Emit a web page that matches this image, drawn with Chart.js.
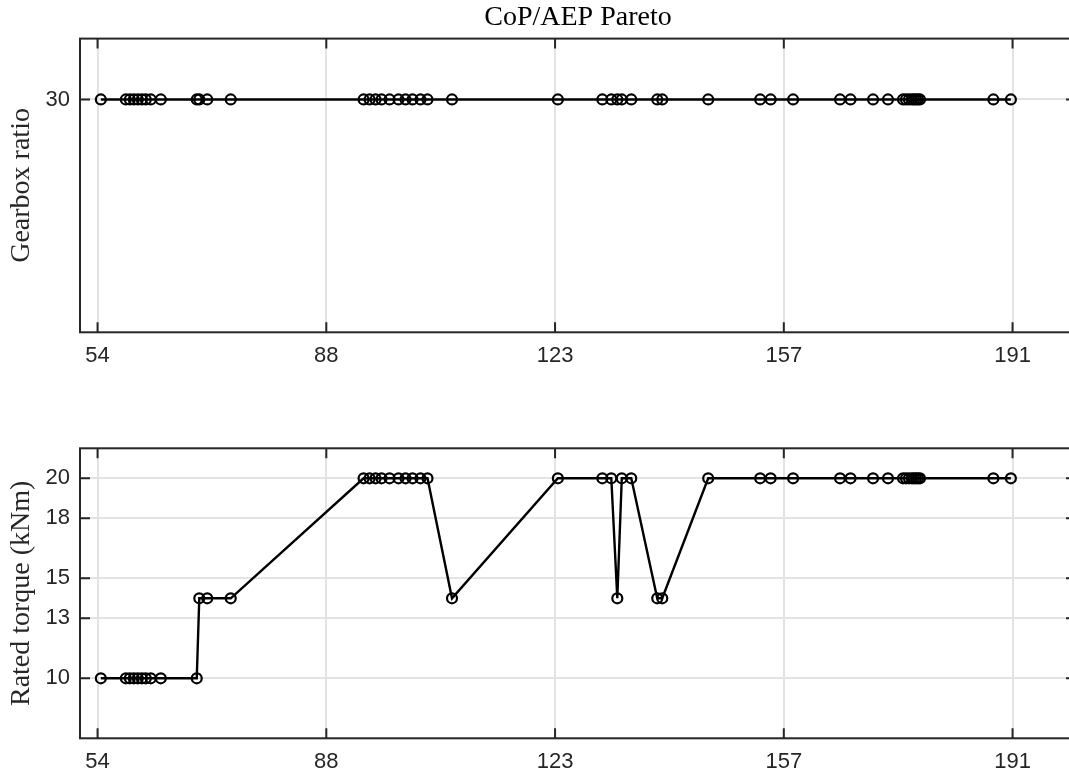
<!DOCTYPE html>
<html>
<head>
<meta charset="utf-8">
<script src="https://cdn.jsdelivr.net/npm/chart.js@4.4.1/dist/chart.umd.min.js"></script>
<style>
html,body{margin:0;padding:0;background:#fff;overflow:hidden;width:1069px;height:776px;}
#c1{position:absolute;left:0;top:0;}
#c2{position:absolute;left:0;top:400px;}
</style>
</head>
<body>
<canvas id="c1" width="1100" height="400" style="width:1100px;height:400px"></canvas>
<canvas id="c2" width="1100" height="376" style="width:1100px;height:376px"></canvas>
<script>
// ---- data ----
const xValues = [54.49, 58.23, 58.83, 59.43, 60.03, 60.63, 61.22, 61.97, 63.47, 68.85,
  69.23, 70.42, 73.94, 93.83, 94.73, 95.62, 96.52, 97.72, 99.06, 100.11,
  101.16, 102.35, 103.40, 107.07, 122.92, 129.58, 130.92, 131.82, 132.49, 133.91,
  137.80, 138.55, 145.43, 153.21, 154.78, 158.14, 165.17, 166.74, 170.11, 172.35,
  174.60, 175.04, 175.49, 175.94, 176.24, 176.54, 176.84, 177.14, 188.13, 190.75];
const gearboxRatio = [30, 30, 30, 30, 30, 30, 30, 30, 30, 30,
  30, 30, 30, 30, 30, 30, 30, 30, 30, 30,
  30, 30, 30, 30, 30, 30, 30, 30, 30, 30,
  30, 30, 30, 30, 30, 30, 30, 30, 30, 30,
  30, 30, 30, 30, 30, 30, 30, 30, 30, 30];
const ratedTorque = [10, 10, 10, 10, 10, 10, 10, 10, 10, 10,
  14, 14, 14, 20, 20, 20, 20, 20, 20, 20,
  20, 20, 20, 14, 20, 20, 20, 14, 20, 20,
  14, 14, 20, 20, 20, 20, 20, 20, 20, 20,
  20, 20, 20, 20, 20, 20, 20, 20, 20, 20];
const xTicks = [54, 88.25, 122.5, 156.75, 191];
const gearTicks = [30];
const torqueTicks = [10, 13, 15, 18, 20];
const titleText = 'CoP/AEP Pareto';
const gearLabel = 'Gearbox ratio';
const torqueLabel = 'Rated torque (kNm)';

// ---- styling ----
const AX = '#262626';
const GRID = '#e3e3e3';
const SANS = "'Liberation Sans', Arial, sans-serif";
const SERIF = "'Liberation Serif', 'Times New Roman', serif";

const framePlugin = {
  id: 'frame',
  afterDraw(chart) {
    const {ctx, chartArea: a, scales} = chart;
    const L = 10;
    ctx.save();
    ctx.strokeStyle = AX;
    ctx.lineWidth = 2;
    ctx.beginPath();
    scales.x.ticks.forEach(t => {
      const p = scales.x.getPixelForValue(t.value);
      ctx.moveTo(p, a.bottom); ctx.lineTo(p, a.bottom - L);
      ctx.moveTo(p, a.top); ctx.lineTo(p, a.top + L);
    });
    scales.y.ticks.forEach(t => {
      const p = scales.y.getPixelForValue(t.value);
      ctx.moveTo(a.left, p); ctx.lineTo(a.left + L, p);
      ctx.moveTo(a.right, p); ctx.lineTo(a.right - L, p);
    });
    ctx.stroke();
    ctx.strokeRect(a.left, a.top, a.right - a.left, a.bottom - a.top);
    ctx.restore();
  }
};

function makeChart(id, yVals, yTicks, yMin, yMax, yTitle, showTitle, padTop, xAxisHeight) {
  const pts = xValues.map((x, i) => ({x: x, y: yVals[i]}));
  return new Chart(document.getElementById(id), {
    type: 'line',
    data: {
      datasets: [{
        data: pts,
        borderColor: '#000',
        borderWidth: 2.4,
        tension: 0,
        pointRadius: 5,
        pointHoverRadius: 5,
        pointBorderWidth: 2.2,
        pointBorderColor: '#000',
        pointBackgroundColor: 'rgba(0,0,0,0)'
      }]
    },
    options: {
      responsive: false,
      animation: false,
      events: [],
      layout: {padding: {top: padTop, left: 0, right: 24, bottom: 0}},
      plugins: {
        legend: {display: false},
        tooltip: {enabled: false},
        title: {
          display: showTitle,
          text: titleText,
          fullSize: false,
          color: '#000',
          font: {family: SERIF, size: 28, weight: 'normal'},
          padding: {top: 1, bottom: 4}
        }
      },
      scales: {
        x: {
          type: 'linear',
          min: 51.37,
          max: 200.5,
          afterBuildTicks: s => { s.ticks = xTicks.map(v => ({value: v})); },
          afterFit: s => { s.height = xAxisHeight; },
          ticks: {
            callback: v => String(Math.round(v)),
            color: AX,
            font: {family: SANS, size: 22},
            padding: 10,
            maxRotation: 0,
            autoSkip: false
          },
          grid: {color: GRID, lineWidth: 2, drawTicks: false},
          border: {display: false}
        },
        y: {
          type: 'linear',
          min: yMin,
          max: yMax,
          afterBuildTicks: s => { s.ticks = yTicks.map(v => ({value: v})); },
          afterFit: s => { s.width = 80; },
          ticks: {
            color: AX,
            font: {family: SANS, size: 22},
            padding: 10,
            autoSkip: false
          },
          grid: {color: GRID, lineWidth: 2, drawTicks: false},
          border: {display: false},
          title: {
            display: true,
            text: yTitle,
            color: AX,
            font: {family: SERIF, size: 28, weight: 'normal'},
            padding: {top: 5, bottom: 0}
          }
        }
      }
    },
    plugins: [framePlugin]
  });
}

makeChart('c1', gearboxRatio, gearTicks, 22.35, 32, gearLabel, true, 0, 67.7);
makeChart('c2', ratedTorque, torqueTicks, 7, 21.5, torqueLabel, false, 48.3, 37.7);
</script>
</body>
</html>
